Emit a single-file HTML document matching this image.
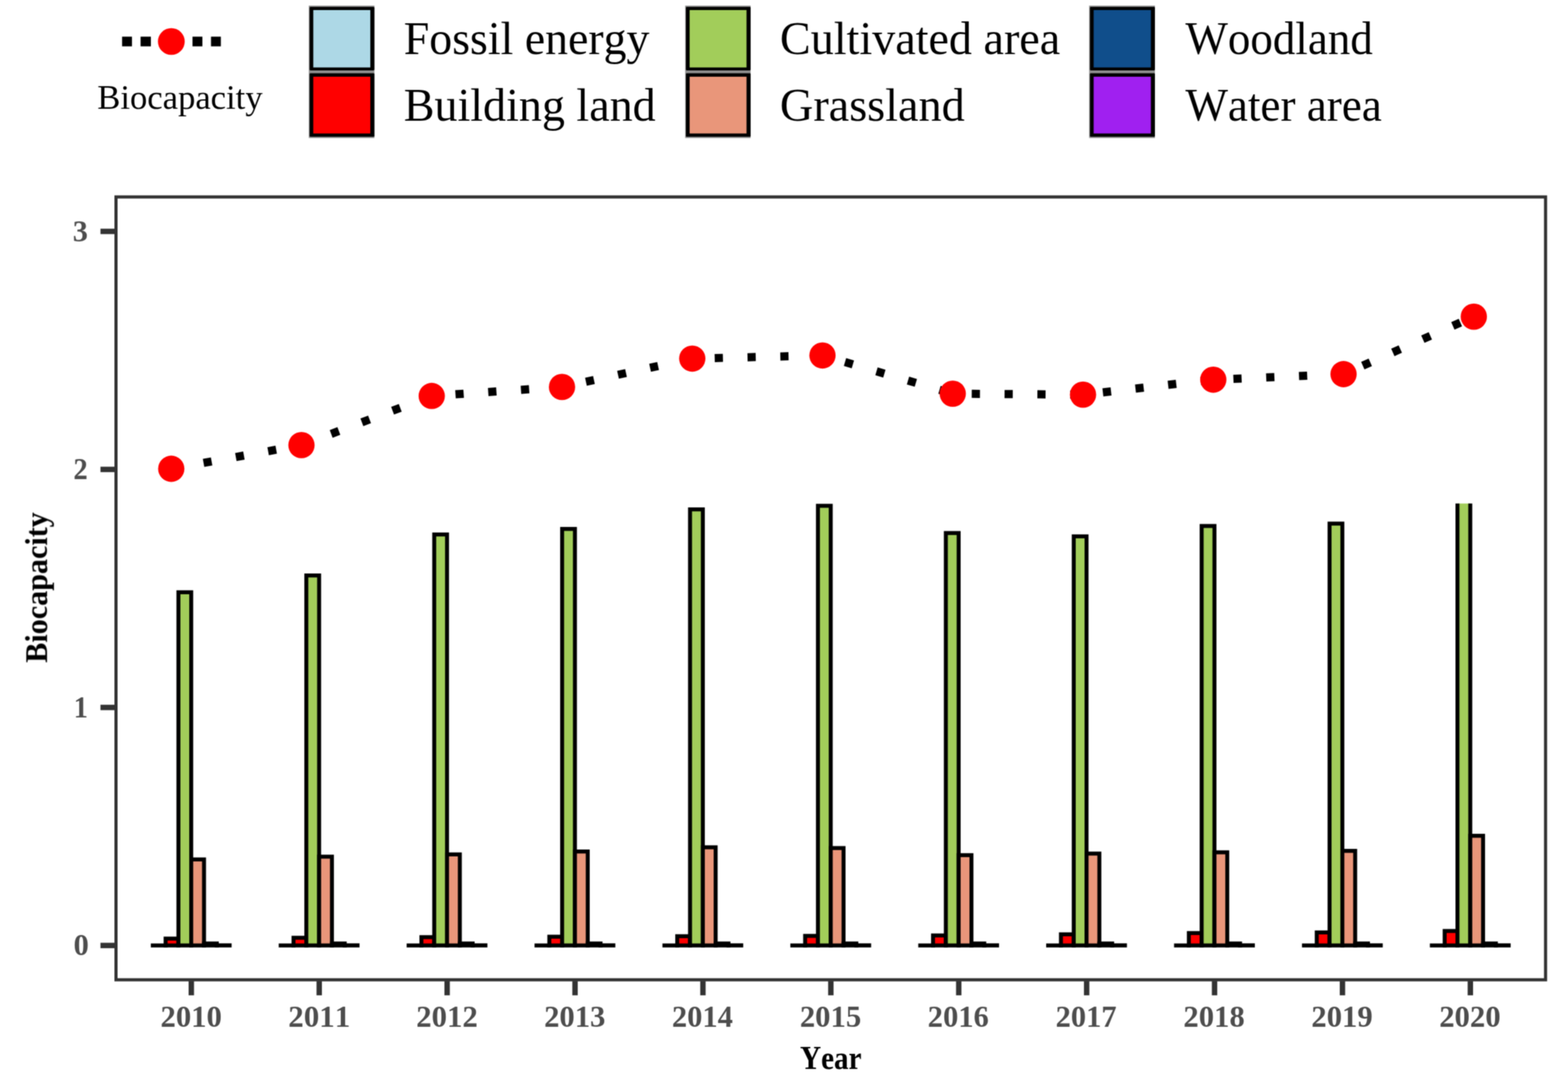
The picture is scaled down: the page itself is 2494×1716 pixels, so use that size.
<!DOCTYPE html>
<html lang="en"><head><meta charset="utf-8"><title>Biocapacity</title>
<style>
html,body{margin:0;padding:0;background:#fff;}
body{width:2494px;height:1716px;overflow:hidden;}
svg{display:block;}
text{font-family:"Liberation Serif",serif;font-kerning:none;}
.ax{font-weight:bold;fill:#4d4d4d;}
.ttl{font-weight:bold;fill:#000;}
.lg{fill:#000;}
</style></head><body>
<svg width="2494" height="1716" viewBox="0 0 2494 1716">
<rect x="0" y="0" width="2494" height="1716" fill="#ffffff"/>
<defs><clipPath id="barclip"><rect x="0" y="800.75" width="2494" height="1716"/></clipPath>
<filter id="soft" filterUnits="userSpaceOnUse" x="0" y="0" width="2494" height="1716" color-interpolation-filters="sRGB"><feConvolveMatrix order="3" kernelMatrix="1 2 1 2 4 2 1 2 1" divisor="16" edgeMode="duplicate" preserveAlpha="false"/></filter></defs>
<g id="chart" filter="url(#soft)">
<g id="legend">
<rect x="491.20" y="8.90" width="104.30" height="210.60" fill="#8e8e8e"/>
<rect x="492.40" y="11.00" width="103.10" height="100.90" rx="1.4" fill="#000"/>
<rect x="498.30" y="16.00" width="90.70" height="91.30" fill="#ADD8E6"/>
<rect x="492.40" y="116.40" width="103.10" height="101.20" rx="1.4" fill="#000"/>
<rect x="498.30" y="122.00" width="90.70" height="90.30" fill="#FF0000"/>
<rect x="1089.80" y="8.90" width="104.10" height="210.60" fill="#8e8e8e"/>
<rect x="1091.00" y="11.00" width="102.90" height="100.90" rx="1.4" fill="#000"/>
<rect x="1096.90" y="16.00" width="90.50" height="91.30" fill="#A2CD5A"/>
<rect x="1091.00" y="116.40" width="102.90" height="101.20" rx="1.4" fill="#000"/>
<rect x="1096.90" y="122.00" width="90.50" height="90.30" fill="#E9967A"/>
<rect x="1732.40" y="8.90" width="104.60" height="210.60" fill="#8e8e8e"/>
<rect x="1733.60" y="11.00" width="103.40" height="100.90" rx="1.4" fill="#000"/>
<rect x="1739.50" y="16.00" width="91.00" height="91.30" fill="#104E8B"/>
<rect x="1733.60" y="116.40" width="103.40" height="101.20" rx="1.4" fill="#000"/>
<rect x="1739.50" y="122.00" width="91.00" height="90.30" fill="#A020F0"/>
<text class="lg" x="642.20" y="86.40" font-size="74" textLength="390.78" lengthAdjust="spacingAndGlyphs">Fossil energy</text>
<text class="lg" x="642.19" y="192.00" font-size="74" textLength="400.70" lengthAdjust="spacingAndGlyphs">Building land</text>
<text class="lg" x="1240.59" y="86.40" font-size="74" textLength="445.81" lengthAdjust="spacingAndGlyphs">Cultivated area</text>
<text class="lg" x="1240.59" y="192.00" font-size="74" textLength="293.81" lengthAdjust="spacingAndGlyphs">Grassland</text>
<text class="lg" x="1885.43" y="86.40" font-size="74" textLength="298.04" lengthAdjust="spacingAndGlyphs">Woodland</text>
<text class="lg" x="1885.43" y="192.00" font-size="74" textLength="312.45" lengthAdjust="spacingAndGlyphs">Water area</text>
<g fill="#000">
<rect x="194.20" y="58.30" width="15.70" height="15.40"/>
<rect x="223.60" y="58.30" width="16.40" height="15.40"/>
<rect x="306.20" y="58.30" width="15.70" height="15.40"/>
<rect x="335.60" y="58.30" width="15.70" height="15.40"/>
</g>
<circle cx="272.5" cy="66.0" r="21.3" fill="#FF0000"/>
<text class="lg" x="154.71" y="172.90" font-size="55.6" textLength="263.00" lengthAdjust="spacingAndGlyphs">Biocapacity</text>
</g>
<g id="bars" clip-path="url(#barclip)" stroke="#000" stroke-width="6.30" stroke-linejoin="miter">
<rect x="243.05" y="1503.60" width="20.37" height="0.01" fill="#ADD8E6"/>
<rect x="263.42" y="1492.70" width="20.37" height="10.90" fill="#FF0000"/>
<rect x="283.78" y="941.90" width="20.37" height="561.70" fill="#A2CD5A"/>
<rect x="304.15" y="1366.80" width="20.37" height="136.80" fill="#E9967A"/>
<rect x="324.52" y="1500.50" width="20.37" height="3.10" fill="#104E8B"/>
<rect x="344.88" y="1503.40" width="20.37" height="0.20" fill="#A020F0"/>
<rect x="446.49" y="1503.60" width="20.37" height="0.01" fill="#ADD8E6"/>
<rect x="466.86" y="1491.40" width="20.37" height="12.20" fill="#FF0000"/>
<rect x="487.22" y="915.20" width="20.37" height="588.40" fill="#A2CD5A"/>
<rect x="507.59" y="1362.40" width="20.37" height="141.20" fill="#E9967A"/>
<rect x="527.96" y="1500.50" width="20.37" height="3.10" fill="#104E8B"/>
<rect x="548.32" y="1503.40" width="20.37" height="0.20" fill="#A020F0"/>
<rect x="649.93" y="1503.60" width="20.37" height="0.01" fill="#ADD8E6"/>
<rect x="670.30" y="1490.40" width="20.37" height="13.20" fill="#FF0000"/>
<rect x="690.66" y="850.00" width="20.37" height="653.60" fill="#A2CD5A"/>
<rect x="711.03" y="1358.80" width="20.37" height="144.80" fill="#E9967A"/>
<rect x="731.40" y="1500.50" width="20.37" height="3.10" fill="#104E8B"/>
<rect x="751.76" y="1503.40" width="20.37" height="0.20" fill="#A020F0"/>
<rect x="853.37" y="1503.60" width="20.37" height="0.01" fill="#ADD8E6"/>
<rect x="873.74" y="1489.70" width="20.37" height="13.90" fill="#FF0000"/>
<rect x="894.10" y="841.20" width="20.37" height="662.40" fill="#A2CD5A"/>
<rect x="914.47" y="1354.20" width="20.37" height="149.40" fill="#E9967A"/>
<rect x="934.84" y="1500.50" width="20.37" height="3.10" fill="#104E8B"/>
<rect x="955.20" y="1503.40" width="20.37" height="0.20" fill="#A020F0"/>
<rect x="1056.81" y="1503.60" width="20.37" height="0.01" fill="#ADD8E6"/>
<rect x="1077.18" y="1488.90" width="20.37" height="14.70" fill="#FF0000"/>
<rect x="1097.54" y="810.10" width="20.37" height="693.50" fill="#A2CD5A"/>
<rect x="1117.91" y="1347.50" width="20.37" height="156.10" fill="#E9967A"/>
<rect x="1138.28" y="1500.50" width="20.37" height="3.10" fill="#104E8B"/>
<rect x="1158.64" y="1503.40" width="20.37" height="0.20" fill="#A020F0"/>
<rect x="1260.25" y="1503.60" width="20.37" height="0.01" fill="#ADD8E6"/>
<rect x="1280.62" y="1488.40" width="20.37" height="15.20" fill="#FF0000"/>
<rect x="1300.98" y="804.40" width="20.37" height="699.20" fill="#A2CD5A"/>
<rect x="1321.35" y="1348.70" width="20.37" height="154.90" fill="#E9967A"/>
<rect x="1341.72" y="1500.50" width="20.37" height="3.10" fill="#104E8B"/>
<rect x="1362.08" y="1503.40" width="20.37" height="0.20" fill="#A020F0"/>
<rect x="1463.69" y="1503.60" width="20.37" height="0.01" fill="#ADD8E6"/>
<rect x="1484.06" y="1487.70" width="20.37" height="15.90" fill="#FF0000"/>
<rect x="1504.42" y="847.70" width="20.37" height="655.90" fill="#A2CD5A"/>
<rect x="1524.79" y="1360.00" width="20.37" height="143.60" fill="#E9967A"/>
<rect x="1545.16" y="1500.50" width="20.37" height="3.10" fill="#104E8B"/>
<rect x="1565.52" y="1503.40" width="20.37" height="0.20" fill="#A020F0"/>
<rect x="1667.13" y="1503.60" width="20.37" height="0.01" fill="#ADD8E6"/>
<rect x="1687.50" y="1485.90" width="20.37" height="17.70" fill="#FF0000"/>
<rect x="1707.86" y="853.00" width="20.37" height="650.60" fill="#A2CD5A"/>
<rect x="1728.23" y="1357.50" width="20.37" height="146.10" fill="#E9967A"/>
<rect x="1748.60" y="1500.50" width="20.37" height="3.10" fill="#104E8B"/>
<rect x="1768.96" y="1503.40" width="20.37" height="0.20" fill="#A020F0"/>
<rect x="1870.57" y="1503.60" width="20.37" height="0.01" fill="#ADD8E6"/>
<rect x="1890.94" y="1483.90" width="20.37" height="19.70" fill="#FF0000"/>
<rect x="1911.30" y="836.50" width="20.37" height="667.10" fill="#A2CD5A"/>
<rect x="1931.67" y="1355.50" width="20.37" height="148.10" fill="#E9967A"/>
<rect x="1952.04" y="1500.50" width="20.37" height="3.10" fill="#104E8B"/>
<rect x="1972.40" y="1503.40" width="20.37" height="0.20" fill="#A020F0"/>
<rect x="2074.01" y="1503.60" width="20.37" height="0.01" fill="#ADD8E6"/>
<rect x="2094.38" y="1482.90" width="20.37" height="20.70" fill="#FF0000"/>
<rect x="2114.74" y="832.70" width="20.37" height="670.90" fill="#A2CD5A"/>
<rect x="2135.11" y="1353.20" width="20.37" height="150.40" fill="#E9967A"/>
<rect x="2155.48" y="1500.50" width="20.37" height="3.10" fill="#104E8B"/>
<rect x="2175.84" y="1503.40" width="20.37" height="0.20" fill="#A020F0"/>
<rect x="2277.45" y="1503.60" width="20.37" height="0.01" fill="#ADD8E6"/>
<rect x="2297.82" y="1480.60" width="20.37" height="23.00" fill="#FF0000"/>
<rect x="2318.18" y="779.50" width="20.37" height="724.10" fill="#A2CD5A"/>
<rect x="2338.55" y="1329.20" width="20.37" height="174.40" fill="#E9967A"/>
<rect x="2358.92" y="1500.50" width="20.37" height="3.10" fill="#104E8B"/>
<rect x="2379.28" y="1503.40" width="20.37" height="0.20" fill="#A020F0"/>
</g>
<polyline id="bcline" points="272.4,745.5 479.5,707.9 686.7,629.7 893.9,615.4 1101.1,570.3 1308.2,565.3 1515.4,626.1 1722.6,627.6 1929.8,603.8 2137.0,595.0 2344.2,503.6" fill="none" stroke="#000" stroke-width="13.00" stroke-dasharray="13.05 39.15" stroke-linejoin="round"/>
<g id="bcpoints" fill="#FF0000">
<circle cx="272.4" cy="745.5" r="20.9"/>
<circle cx="479.5" cy="707.9" r="20.9"/>
<circle cx="686.7" cy="629.7" r="20.9"/>
<circle cx="893.9" cy="615.4" r="20.9"/>
<circle cx="1101.1" cy="570.3" r="20.9"/>
<circle cx="1308.2" cy="565.3" r="20.9"/>
<circle cx="1515.4" cy="626.1" r="20.9"/>
<circle cx="1722.6" cy="627.6" r="20.9"/>
<circle cx="1929.8" cy="603.8" r="20.9"/>
<circle cx="2137.0" cy="595.0" r="20.9"/>
<circle cx="2344.2" cy="503.6" r="20.9"/>
</g>
<rect x="184.50" y="313.20" width="2273.80" height="1245.00" fill="none" stroke="#333333" stroke-width="5.00"/>
<g stroke="#333333" stroke-width="8.60">
<line x1="304.30" y1="1560.20" x2="304.30" y2="1582.90"/>
<line x1="507.74" y1="1560.20" x2="507.74" y2="1582.90"/>
<line x1="711.18" y1="1560.20" x2="711.18" y2="1582.90"/>
<line x1="914.62" y1="1560.20" x2="914.62" y2="1582.90"/>
<line x1="1118.06" y1="1560.20" x2="1118.06" y2="1582.90"/>
<line x1="1321.50" y1="1560.20" x2="1321.50" y2="1582.90"/>
<line x1="1524.94" y1="1560.20" x2="1524.94" y2="1582.90"/>
<line x1="1728.38" y1="1560.20" x2="1728.38" y2="1582.90"/>
<line x1="1931.82" y1="1560.20" x2="1931.82" y2="1582.90"/>
<line x1="2135.26" y1="1560.20" x2="2135.26" y2="1582.90"/>
<line x1="2338.70" y1="1560.20" x2="2338.70" y2="1582.90"/>
<line x1="159.80" y1="1503.65" x2="182.50" y2="1503.65"/>
<line x1="159.80" y1="1125.10" x2="182.50" y2="1125.10"/>
<line x1="159.80" y1="746.55" x2="182.50" y2="746.55"/>
<line x1="159.80" y1="368.00" x2="182.50" y2="368.00"/>
</g>
<g id="xlabels">
<text class="ax" x="255.25" y="1633.40" font-size="49" textLength="97.71" lengthAdjust="spacingAndGlyphs">2010</text>
<text class="ax" x="458.62" y="1633.40" font-size="49" textLength="98.41" lengthAdjust="spacingAndGlyphs">2011</text>
<text class="ax" x="662.02" y="1633.40" font-size="49" textLength="97.96" lengthAdjust="spacingAndGlyphs">2012</text>
<text class="ax" x="865.42" y="1633.40" font-size="49" textLength="97.51" lengthAdjust="spacingAndGlyphs">2013</text>
<text class="ax" x="1068.83" y="1633.40" font-size="49" textLength="96.73" lengthAdjust="spacingAndGlyphs">2014</text>
<text class="ax" x="1272.20" y="1633.40" font-size="49" textLength="97.64" lengthAdjust="spacingAndGlyphs">2015</text>
<text class="ax" x="1475.60" y="1633.40" font-size="49" textLength="97.27" lengthAdjust="spacingAndGlyphs">2016</text>
<text class="ax" x="1678.99" y="1633.40" font-size="49" textLength="97.02" lengthAdjust="spacingAndGlyphs">2017</text>
<text class="ax" x="1882.37" y="1633.40" font-size="49" textLength="97.46" lengthAdjust="spacingAndGlyphs">2018</text>
<text class="ax" x="2085.76" y="1633.40" font-size="49" textLength="97.61" lengthAdjust="spacingAndGlyphs">2019</text>
<text class="ax" x="2289.15" y="1633.40" font-size="49" textLength="97.71" lengthAdjust="spacingAndGlyphs">2020</text>
</g>
<g id="ylabels">
<text class="ax" x="117.05" y="1519.45" font-size="49" textLength="24.30" lengthAdjust="spacingAndGlyphs">0</text>
<text class="ax" x="117.29" y="1140.90" font-size="49" textLength="22.54" lengthAdjust="spacingAndGlyphs">1</text>
<text class="ax" x="116.69" y="762.35" font-size="49" textLength="22.77" lengthAdjust="spacingAndGlyphs">2</text>
<text class="ax" x="115.69" y="383.80" font-size="49" textLength="24.05" lengthAdjust="spacingAndGlyphs">3</text>
</g>
<text class="ttl" x="1272.48" y="1699.80" font-size="51.8" textLength="97.86" lengthAdjust="spacingAndGlyphs">Year</text>
<text class="ttl" font-size="50" transform="translate(74.80,1053.50) rotate(-90)" x="-0.39" y="0" textLength="239.16" lengthAdjust="spacingAndGlyphs">Biocapacity</text>
</g>
</svg>
</body></html>
